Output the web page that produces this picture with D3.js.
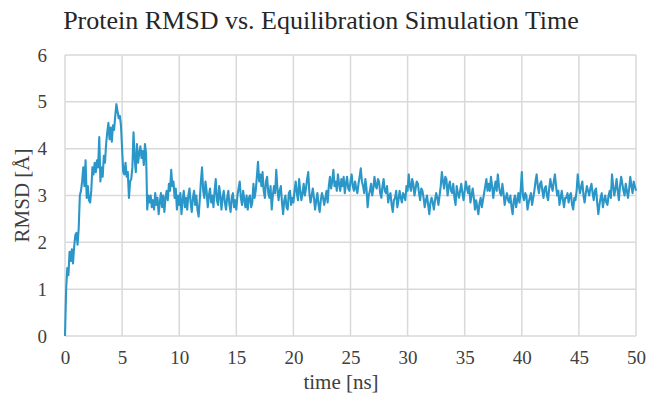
<!DOCTYPE html>
<html><head><meta charset="utf-8">
<script src="https://cdn.jsdelivr.net/npm/d3@7"></script>
<style>body{margin:0;background:#fff}svg{display:block}</style>
</head><body>
<script>
const title = "Protein RMSD vs. Equilibration Simulation Time";
const xLabel = "time [ns]";
const yLabel = "RMSD [Å]";
const xTicks = [0,5,10,15,20,25,30,35,40,45,50];
const yTicks = [0,1,2,3,4,5,6];
// RMSD [Å] sampled every 0.1 ns from 0.0 to 50.0 ns
const rmsd = [0,1.0,1.45,1.3,1.8,1.6,1.85,1.55,1.9,2.15,
 2.2,1.95,2.3,3.0,3.1,3.3,3.6,3.2,3.75,2.95,
 3.2,2.9,2.85,3.1,3.6,3.45,3.7,3.5,3.75,3.6,
 4.25,3.3,3.6,3.4,3.85,3.7,4.1,4.35,4.55,4.2,
 4.45,4.15,4.5,4.4,4.7,4.95,4.8,4.65,4.7,4.5,
 4.0,3.5,3.45,3.7,3.4,3.5,2.95,3.3,3.35,3.6,
 4.35,3.8,3.5,4.1,3.7,3.9,4.05,3.8,3.95,3.65,
 4.1,3.9,2.7,3.0,2.85,3.0,2.75,2.9,2.7,3.05,
 2.8,2.95,2.6,2.85,3.05,2.75,3.0,2.65,2.95,3.1,
 2.9,3.25,3.1,3.55,3.2,3.3,2.95,3.15,2.7,3.0,
 2.8,
 3.05,2.6,2.9,3.1,2.75,2.95,2.7,3.0,3.15,2.85,
 2.65,2.95,3.1,2.8,3.0,2.7,2.55,2.9,3.3,3.6,
 3.1,2.95,3.3,3.1,2.75,3.0,3.15,2.85,3.0,2.75,
 3.1,3.35,2.9,2.8,3.2,3.0,2.7,2.95,3.1,2.85,
 2.7,2.95,3.1,2.8,2.65,2.95,3.05,2.75,2.9,2.7,
 3.0,3.15,3.3,2.95,2.8,3.1,2.9,2.75,3.0,2.7,
 2.95,3.0,2.75,2.85,3.25,2.95,3.1,3.4,3.72,3.3,
 3.45,3.2,3.5,3.1,2.95,3.3,3.4,3.05,2.95,3.2,
 2.7,3.0,3.2,3.05,3.55,3.15,2.9,3.1,3.2,2.85,
 2.6,2.9,3.0,2.75,2.7,3.05,3.1,2.8,2.95,2.85,
 3.1,3.3,3.05,2.9,3.35,3.1,2.9,3.05,3.25,3.0,
 3.15,3.35,3.5,3.05,2.85,3.0,3.15,2.95,2.7,2.9,
 3.05,2.8,2.65,2.9,3.05,2.95,2.8,2.95,3.1,2.85,
 3.2,3.4,3.15,3.3,3.55,3.2,3.3,3.1,3.45,3.25,
 3.1,3.35,3.2,3.4,3.05,3.25,3.4,3.15,3.1,3.3,
 3.45,3.2,3.1,3.3,3.15,3.05,3.25,3.4,3.58,3.3,
 3.2,3.05,3.35,3.15,2.75,3.0,3.1,3.25,3.0,3.15,
 3.4,3.2,3.15,3.35,3.3,3.05,2.95,3.2,3.35,3.1,
 3.05,3.2,2.85,3.0,3.05,2.8,2.65,2.9,2.95,3.1,
 2.75,2.9,3.1,2.95,2.85,3.05,3.0,2.9,3.2,3.1,
 3.45,3.2,3.1,3.35,3.25,3.0,3.15,3.3,3.25,3.05,
 2.9,3.15,3.1,2.95,2.75,2.9,3.0,2.8,2.6,2.85,
 2.95,2.85,2.7,2.9,3.05,2.95,2.8,3.0,3.2,3.5,
 3.3,3.15,3.4,3.35,3.0,3.2,3.3,3.1,3.05,3.25,
 2.95,2.8,3.2,3.05,2.95,3.1,3.25,3.05,2.9,3.1,
 3.3,3.15,3.05,3.2,2.85,3.0,3.15,2.95,2.7,2.9,
 2.75,2.6,2.85,2.95,2.75,2.9,3.05,3.2,3.35,3.1,
 3.25,3.1,3.4,3.2,2.95,3.15,3.3,3.1,3.45,3.2,
 3.05,3.0,3.25,3.05,2.8,2.95,3.05,2.9,2.85,3.0,
 2.75,2.6,2.9,3.0,2.75,2.9,3.05,2.85,3.1,3.5,
 3.0,2.9,3.05,3.0,2.7,2.85,2.95,3.05,2.8,2.95,
 3.1,3.3,3.45,3.2,3.05,3.25,3.3,3.1,2.95,3.15,
 3.2,3.0,2.9,3.15,3.35,3.2,3.1,3.3,3.45,3.2,
 3.0,3.1,2.8,2.95,3.1,2.9,2.75,2.95,2.95,3.05,
 2.85,3.0,3.05,2.8,2.7,2.95,2.9,3.1,3.45,3.2,
 3.05,3.2,3.3,3.0,2.85,3.05,3.2,3.1,3.0,3.15,
 3.25,3.05,2.9,3.1,3.15,2.85,2.6,2.8,2.95,3.05,
 2.75,2.9,3.0,2.85,2.8,3.0,3.1,2.95,3.45,3.2,
 3.0,3.15,3.35,3.1,2.9,3.2,3.4,3.25,3.1,3.0,
 3.25,3.1,2.95,3.15,3.4,3.2,3.05,3.3,3.2,3.1];
const time = rmsd.map((_, i) => i / 10);
const data = time.map((t, i) => ({t, v: rmsd[i]}));

const W = 646, H = 396;
const m = {left: 65, right: 10, top: 55, bottom: 60};
const svg = d3.select("body").append("svg").attr("width", W).attr("height", H);
const x = d3.scaleLinear().domain([0, 50]).range([m.left, W - m.right]);
const y = d3.scaleLinear().domain([0, 6]).range([H - m.bottom, m.top]);
const font = "'Liberation Serif', 'Times New Roman', serif";
const textCol = "#404040";

const g = svg.append("g");
g.selectAll(".gx").data(xTicks).join("line")
  .attr("x1", d => x(d)).attr("x2", d => x(d))
  .attr("y1", y(6)).attr("y2", y(0))
  .attr("stroke", "#d9d9d9").attr("stroke-width", 1.5);
g.selectAll(".gy").data(yTicks).join("line")
  .attr("y1", d => y(d)).attr("y2", d => y(d))
  .attr("x1", x(0)).attr("x2", x(50))
  .attr("stroke", "#d9d9d9").attr("stroke-width", 1.5);

const xAxis = svg.append("g").attr("transform", `translate(0,${y(0)})`)
  .call(d3.axisBottom(x).tickValues(xTicks).tickFormat(d3.format("d")).tickSize(0).tickPadding(15));
const yAxis = svg.append("g").attr("transform", `translate(${x(0)},0)`)
  .call(d3.axisLeft(y).tickValues(yTicks).tickFormat(d3.format("d")).tickSize(0).tickPadding(18));
[xAxis, yAxis].forEach(a => {
  a.select(".domain").remove();
  a.attr("font-family", null).attr("font-size", null);
  a.selectAll("text").style("font-family", font).style("font-size", "19px").attr("fill", textCol);
});

svg.append("path").datum(data)
  .attr("fill", "none").attr("stroke", "#2b96c8").attr("stroke-width", 2.1)
  .attr("stroke-linejoin", "round")
  .attr("d", d3.line().x(d => x(d.t)).y(d => y(d.v)));

svg.append("text").attr("x", 321).attr("y", 29).attr("text-anchor", "middle")
  .style("font-family", font).style("font-size", "26px").attr("fill", "#262626").text(title);
svg.append("text").attr("x", 341).attr("y", 389).attr("text-anchor", "middle")
  .style("font-family", font).style("font-size", "21px").attr("fill", textCol).text(xLabel);
svg.append("text").attr("transform", `translate(29,${y(3)}) rotate(-90)`).attr("text-anchor", "middle")
  .style("font-family", font).style("font-size", "21px").attr("fill", textCol).text(yLabel);
</script>
</body></html>
